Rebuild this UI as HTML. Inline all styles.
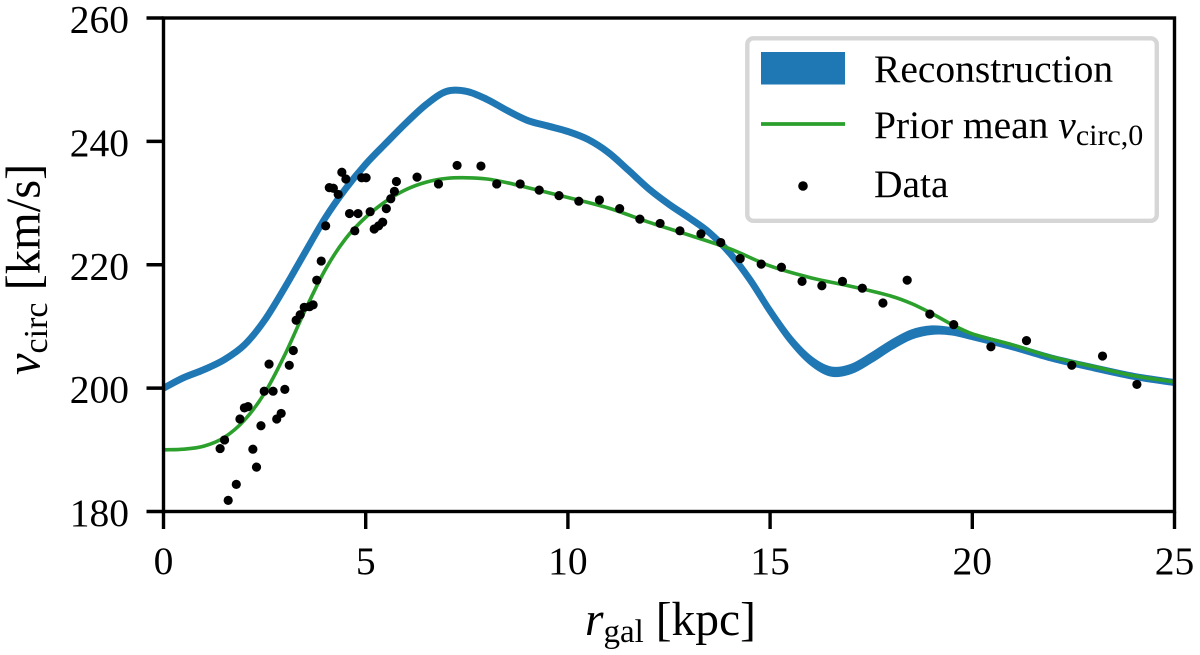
<!DOCTYPE html>
<html lang="en">
<head>
<meta charset="utf-8">
<title>Circular velocity reconstruction</title>
<style>
html,body{margin:0;padding:0;background:#fff;}
svg{display:block;}
text{font-family:"Liberation Serif","Times New Roman",serif;fill:#000;font-size:39.5px;}
</style>
</head>
<body>
<svg id="chart" xmlns="http://www.w3.org/2000/svg" width="1200" height="655" viewBox="0 0 1200 655">
  <rect x="0" y="0" width="1200" height="655" fill="#fff"/>
  <g id="series"></g>
  <rect x="163.5" y="18" width="1011" height="493.5" fill="none" stroke="#000" stroke-width="3.4"/>
  <g id="ticks"></g>
  <text x="585" y="635" style="font-size:47.5px"><tspan font-style="italic">r</tspan><tspan style="font-size:33px" dy="7">gal</tspan><tspan dy="-7"> [kpc]</tspan></text>
  <text transform="translate(39.5 375) rotate(-90)" x="0" y="0" style="font-size:48.5px"><tspan font-style="italic">v</tspan><tspan style="font-size:34px" dy="7.5">circ</tspan><tspan dy="-7.5"> [km/s]</tspan></text>
  <g>
    <rect x="747.3" y="38.3" width="409.5" height="182.5" rx="6" ry="6" fill="#fff" fill-opacity="0.9" stroke="#d6d6d6" stroke-width="4.4"/>
    <rect x="761" y="52" width="84" height="32.5" fill="#1f77b4"/>
    <line x1="761" y1="124" x2="845" y2="124" stroke="#2ca02c" stroke-width="3.8"/>
    <circle cx="803" cy="186" r="4.8" fill="#000"/>
    <text x="874" y="82">Reconstruction</text>
    <text x="874" y="138">Prior mean <tspan font-style="italic">v</tspan><tspan style="font-size:30px" dy="7">circ,0</tspan></text>
    <text x="874" y="197">Data</text>
  </g>
</svg>
<script>
const xTicks = [0, 5, 10, 15, 20, 25];
const yTicks = [180, 200, 220, 240, 260];

const reconR = [0, 0.5, 1, 1.5, 2, 2.5, 3, 3.5, 4, 4.5, 5, 5.5, 6, 6.5, 7, 7.5, 8, 8.5, 9, 9.5, 10, 10.5, 11, 11.5, 12, 12.5, 13, 13.5, 14, 14.5, 15, 15.5, 16, 16.5, 17, 17.5, 18, 18.5, 19, 19.5, 20, 21, 22, 23, 24, 25];
const reconV = [200, 201.7, 203, 204.6, 207, 211, 216.3, 222, 227.6, 232.3, 236.3, 239.7, 243, 246, 248.1, 248.1, 246.8, 245, 243.4, 242.5, 241.6, 240.3, 238.2, 235.3, 232.3, 229.8, 227.6, 225.2, 221.9, 217.6, 212.5, 207.9, 204.5, 202.7, 203.1, 204.9, 207, 208.7, 209.4, 209.2, 208.4, 206.7, 204.8, 203.3, 201.9, 200.9];
const reconSigma = [0.05, 0.05, 0.05, 0.05, 0.05, 0.05, 0.05, 0.05, 0.05, 0.05, 0.05, 0.05, 0.05, 0.05, 0.05, 0.05, 0.05, 0.05, 0.05, 0.05, 0.05, 0.05, 0.05, 0.05, 0.05, 0.05, 0.05, 0.05, 0.05, 0.05, 0.05, 0.1, 0.2, 0.3, 0.3, 0.3, 0.3, 0.3, 0.25, 0.15, 0.1, 0.05, 0.05, 0.05, 0.05, 0.05];

const priorR = [0, 0.5, 1, 1.5, 2, 2.5, 3, 3.5, 4, 4.5, 5, 5.5, 6, 6.5, 7, 7.5, 8, 8.5, 9, 10, 11, 12, 13, 14, 15, 16, 17, 18, 18.5, 19, 19.5, 20, 21, 22, 23, 24, 25];
const priorV = [190, 190.1, 190.6, 192, 194.8, 199.2, 205.4, 212.6, 219.2, 224.2, 227.7, 230.3, 232.2, 233.4, 234, 234.1, 233.9, 233.3, 232.5, 230.9, 229.2, 226.9, 224.8, 222.6, 219.8, 217.9, 216.5, 214.9, 213.7, 212.1, 210.3, 208.8, 207, 205, 203.5, 202, 201];

const dataR = [1.60, 1.80, 2.30, 2.21, 1.40, 1.51, 2.41, 1.89, 2.80, 2.91, 2.00, 2.09, 2.49, 2.71, 3.00, 2.61, 3.11, 3.21, 3.28, 3.38, 3.48, 3.61, 3.70, 3.79, 3.90, 4.01, 4.73, 4.60, 4.81, 5.11, 5.21, 5.32, 5.42, 5.51, 5.62, 5.71, 5.76, 4.32, 4.20, 4.10, 4.51, 4.41, 4.90, 5.01, 6.27, 6.80, 7.26, 7.85, 8.24, 8.82, 9.29, 9.78, 10.27, 10.78, 11.28, 11.78, 12.28, 12.77, 13.29, 13.78, 14.26, 14.78, 15.28, 15.79, 16.28, 16.79, 17.28, 17.79, 18.39, 18.95, 19.54, 20.46, 21.34, 22.46, 23.22, 24.07];
const dataV = [181.8, 184.4, 187.2, 190.1, 190.2, 191.6, 193.9, 195.0, 195.0, 195.9, 196.8, 197.0, 199.5, 199.5, 199.8, 203.9, 203.7, 206.1, 211.0, 211.9, 213.1, 213.2, 213.5, 217.5, 220.6, 226.3, 225.5, 228.3, 228.3, 228.6, 225.8, 226.3, 226.9, 229.1, 230.7, 231.9, 233.5, 231.4, 232.4, 232.5, 233.9, 235.0, 234.1, 234.1, 234.2, 233.1, 236.1, 236.0, 233.1, 233.1, 232.1, 231.2, 230.3, 230.5, 229.1, 227.4, 226.7, 225.5, 225.0, 223.6, 221.0, 220.1, 219.6, 217.3, 216.6, 217.3, 216.2, 213.8, 217.5, 212.0, 210.3, 206.7, 207.7, 203.7, 205.2, 200.6];

const SVG_NS = 'http://www.w3.org/2000/svg';
const scaleX = r => 163.5 + (r - 0) * (1174.5 - 163.5) / 25;
const scaleY = v => 511.5 - (v - 180) * (511.5 - 18) / 80;

function make(tag, attrs, parent) {
  const el = document.createElementNS(SVG_NS, tag);
  for (const k in attrs) el.setAttribute(k, attrs[k]);
  parent.appendChild(el);
  return el;
}

function smoothSegments(pts) {
  const n = pts.length;
  const slope = i => {
    const a = pts[Math.max(i - 1, 0)], b = pts[Math.min(i + 1, n - 1)];
    return (b[1] - a[1]) / (b[0] - a[0]);
  };
  let d = '';
  for (let i = 0; i < n - 1; i++) {
    const p1 = pts[i], p2 = pts[i + 1];
    const h = (p2[0] - p1[0]) / 3;
    const c1x = p1[0] + h, c1y = p1[1] + slope(i) * h;
    const c2x = p2[0] - h, c2y = p2[1] - slope(i + 1) * h;
    d += 'C' + c1x.toFixed(2) + ' ' + c1y.toFixed(2) + ' ' + c2x.toFixed(2) + ' ' + c2y.toFixed(2) + ' ' + p2[0].toFixed(2) + ' ' + p2[1].toFixed(2);
  }
  return d;
}

const plot = document.getElementById('series');
const tickLayer = document.getElementById('ticks');

const clip = make('clipPath', { id: 'plot-clip' }, plot);
make('rect', { x: 163.5, y: 18, width: 1011, height: 493.5 }, clip);

const upper = reconR.map((r, i) => [scaleX(r), scaleY(reconV[i] + reconSigma[i])]);
const lower = reconR.map((r, i) => [scaleX(r), scaleY(reconV[i] - reconSigma[i])]).reverse();
const bandD = 'M' + upper[0][0].toFixed(2) + ' ' + upper[0][1].toFixed(2) + smoothSegments(upper) +
  'L' + lower[0][0].toFixed(2) + ' ' + lower[0][1].toFixed(2) + smoothSegments(lower) + 'Z';
const band = make('path', { d: bandD, fill: '#1f77b4', stroke: '#1f77b4', 'stroke-width': 6.4, 'stroke-linejoin': 'round', 'clip-path': 'url(#plot-clip)' }, plot);



const priorPts = priorR.map((r, i) => [scaleX(r), scaleY(priorV[i])]);
const prior = make('path', { d: 'M' + priorPts[0][0].toFixed(2) + ' ' + priorPts[0][1].toFixed(2) + smoothSegments(priorPts), fill: 'none', stroke: '#2ca02c', 'stroke-width': 3.6, 'clip-path': 'url(#plot-clip)' }, plot);



dataR.forEach((r, i) => {
  const dot = make('circle', { cx: scaleX(r).toFixed(2), cy: scaleY(dataV[i]).toFixed(2), r: 4.6, fill: '#000' }, plot);
  
  
});

xTicks.forEach(t => {
  const x = scaleX(t);
  const mark = make('line', { x1: x, y1: 511.5, x2: x, y2: 529, stroke: '#000', 'stroke-width': 3.4 }, tickLayer);
  
  
  const label = make('text', { x: x, y: 574, 'text-anchor': 'middle' }, tickLayer);
  
  
  label.textContent = t;
});

yTicks.forEach(t => {
  const y = scaleY(t);
  const mark = make('line', { x1: 146.5, y1: y, x2: 163.5, y2: y, stroke: '#000', 'stroke-width': 3.4 }, tickLayer);
  
  
  const label = make('text', { x: 129, y: y + 14.5, 'text-anchor': 'end' }, tickLayer);
  
  
  label.textContent = t;
});
</script>
</body>
</html>
